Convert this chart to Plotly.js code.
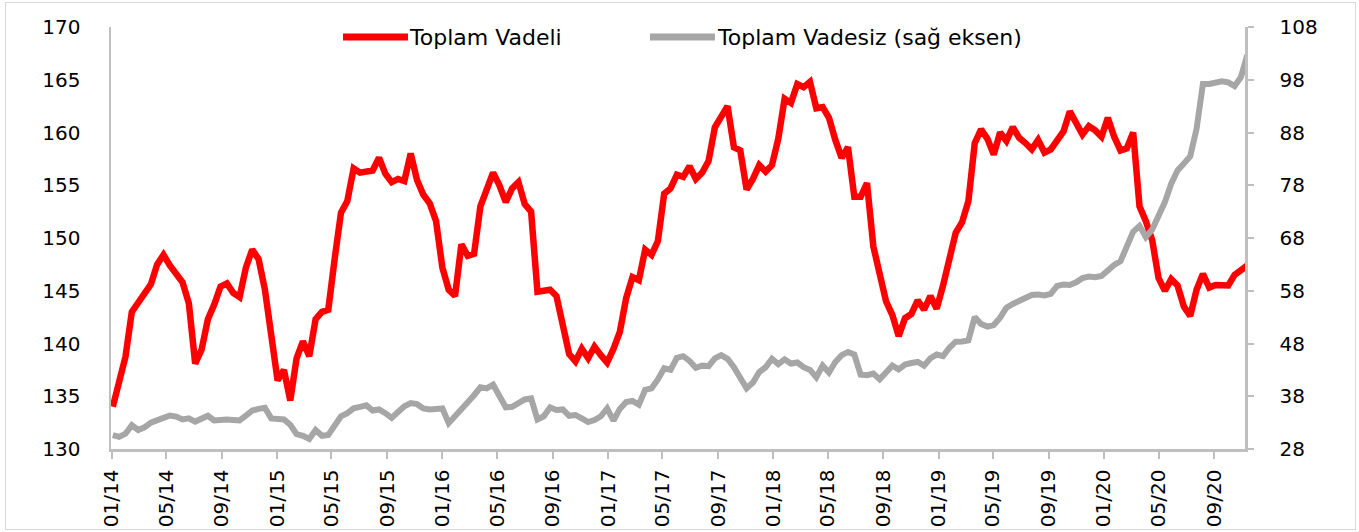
<!DOCTYPE html>
<html><head><meta charset="utf-8">
<script src="https://cdn.plot.ly/plotly-3.0.1.min.js"></script>
<style>
html,body{margin:0;padding:0;background:#fff;}
#frame{position:absolute;left:5px;top:2px;width:1349px;height:526px;border:1.5px solid #d9d9d9;pointer-events:none;z-index:2;}
#chart{position:absolute;left:0;top:0;width:1359px;height:532px;}
</style></head><body>
<div id="frame"></div>
<div id="chart"></div>
<script>
// weekly-Friday based, sampled every two weeks
const startDate = '2014-01-03';
const stepDays = 14;

const seriesNames = ['Toplam Vadeli', 'Toplam Vadesiz (sağ eksen)'];

const toplamVadeli = [
  134.0, 136.1, 138.75, 143.0, 143.9, 144.7, 145.6, 147.5, 148.4, 147.4,
  146.7, 145.8, 143.8, 138.1, 139.4, 142.3, 143.7, 145.4, 145.7, 144.8,
  144.4, 147.2, 148.9, 148.0, 145.1, 141.0, 136.5, 137.5, 134.6, 138.6,
  140.2, 138.8, 142.3, 143.0, 143.2, 148.0, 152.4, 153.5, 156.6, 156.2,
  156.3, 156.4, 157.6, 156.1, 155.3, 155.6, 155.4, 158.0, 155.5, 154.1,
  153.3, 151.6, 147.2, 145.1, 144.5, 149.4, 148.3, 148.5, 153.0, 154.6,
  156.2, 155.0, 153.4, 154.7, 155.3, 153.2, 152.5, 144.9, 145.0, 145.1,
  144.5, 142.0, 139.0, 138.3, 139.5, 138.6, 139.7, 138.9, 138.2, 139.5,
  141.1, 144.3, 146.3, 146.0, 148.9, 148.4, 149.7, 154.2, 154.7, 156.0,
  155.8, 156.8, 155.6, 156.2, 157.3, 160.5, 161.6, 162.5, 158.6, 158.3,
  154.6, 155.6, 156.9, 156.3, 156.9, 159.4, 163.2, 162.8, 164.6, 164.3,
  164.8, 162.3, 162.4, 161.4, 159.3, 157.6, 158.6, 153.9, 153.9, 155.2,
  149.2, 146.8, 144.0, 142.7, 140.7, 142.4, 142.8, 144.1, 143.2, 144.5,
  143.3, 145.5, 148.0, 150.5, 151.5, 153.5, 159.0, 160.3, 159.4, 157.9,
  160.0, 159.2, 160.5, 159.5, 159.0, 158.4, 159.3, 158.1, 158.4, 159.3,
  160.1, 162.0, 161.0, 159.8, 160.6, 160.2, 159.6, 161.4, 159.6, 158.3,
  158.5, 160.0, 153.0, 151.6, 149.8, 146.2, 145.0, 146.1, 145.5, 143.5,
  142.6, 145.1, 146.6, 145.3, 145.55, 145.6, 145.5, 146.5, 147.0, 147.4
];

const toplamVadesiz = [
  30.65, 30.3, 30.9, 32.5, 31.6, 32.1, 33.0, 33.6, 33.9, 34.35,
  34.15, 33.6, 33.8, 33.2, 33.8, 34.3, 33.4, 33.6, 33.6, 33.5,
  33.4, 34.3, 35.3, 35.6, 35.8, 33.8, 33.6, 33.6, 32.6, 30.8,
  30.5, 29.9, 31.6, 30.5, 30.65, 32.4, 34.2, 34.8, 35.7, 36.0,
  36.3, 35.3, 35.5, 34.8, 33.9, 35.0, 36.1, 36.7, 36.5, 35.7,
  35.5, 35.6, 35.7, 32.9, 34.2, 35.3, 36.6, 38.2, 39.7, 39.5,
  40.2, 37.8, 35.9, 36.0, 36.6, 37.4, 37.6, 33.6, 34.2, 35.9,
  35.4, 35.5, 34.3, 34.45, 33.8, 33.1, 33.5, 34.2, 35.7, 33.4,
  35.6, 36.9, 37.1, 36.4, 39.2, 39.5, 41.2, 43.3, 43.0, 45.3,
  45.6, 44.7, 43.4, 43.8, 43.7, 45.2, 45.8, 45.1, 43.5, 41.4,
  39.5, 40.6, 42.6, 43.5, 45.1, 44.1, 45.0, 44.2, 44.4, 43.5,
  43.0, 41.6, 43.8, 42.5, 44.5, 45.8, 46.4, 45.9, 42.1, 42.0,
  42.3, 41.2, 42.6, 43.8, 43.1, 44.0, 44.3, 44.5, 43.8, 45.2,
  45.9, 45.6, 47.2, 48.35, 48.4, 48.6, 53.0, 51.7, 51.2, 51.5,
  52.9, 54.8, 55.5, 56.1, 56.8, 57.2, 57.3, 57.1, 57.4, 58.9,
  59.2, 59.1, 59.6, 60.4, 60.7, 60.55, 60.8, 62.0, 62.9, 63.6,
  66.3, 69.2, 70.3, 68.2, 69.6, 71.9, 74.8, 78.3, 80.8, 82.1,
  83.5, 88.7, 97.2, 97.2, 97.35, 97.7, 97.5, 96.8, 98.5, 102.7
];

const leftTicks = [130, 135, 140, 145, 150, 155, 160, 165, 170];
const rightTicks = [28, 38, 48, 58, 68, 78, 88, 98, 108];

function buildDates(n) {
  const t0 = Date.parse(startDate + 'T00:00:00Z');
  const out = [];
  for (let i = 0; i < n; i++) {
    out.push(new Date(t0 + i * stepDays * 86400000).toISOString().slice(0, 10));
  }
  return out;
}
const dates = buildDates(toplamVadeli.length);

const FONT = 'DejaVu Sans, Verdana, sans-serif';
const AXIS_GRAY = '#bfbfbf';

const traces = [
  {x: dates, y: toplamVadeli, name: seriesNames[0], type: 'scatter', mode: 'lines',
   line: {color: '#ff0000', width: 6.5}, yaxis: 'y'},
  {x: dates, y: toplamVadesiz, name: seriesNames[1], type: 'scatter', mode: 'lines',
   line: {color: '#a6a6a6', width: 6}, yaxis: 'y2'}
];

const layout = {
  width: 1359, height: 532,
  margin: {l: 111, r: 114, t: 27, b: 83},
  paper_bgcolor: 'rgba(0,0,0,0)', plot_bgcolor: 'rgba(0,0,0,0)',
  showlegend: false,
  font: {family: FONT, size: 20, color: '#000'},
  xaxis: {
    type: 'date', range: ['2013-12-30', '2020-11-08'],
    tick0: '2014-01-01', dtick: 'M4', tickformat: '%m/%y', tickangle: -90,
    ticks: 'outside', ticklen: 7, tickwidth: 2, tickcolor: AXIS_GRAY,
    showline: true, linecolor: AXIS_GRAY, linewidth: 2.5,
    showgrid: false, zeroline: false, ticklabelstandoff: 3,
    tickfont: {family: FONT, size: 20, color: '#000'}
  },
  yaxis: {
    range: [130, 170], tickvals: leftTicks, ticktext: leftTicks.map(String),
    ticks: '', showline: true, linecolor: AXIS_GRAY, linewidth: 2.5,
    showgrid: false, zeroline: false, ticklabelstandoff: 24,
    tickfont: {family: FONT, size: 20, color: '#000'}
  },
  yaxis2: {
    range: [28, 108], tickvals: rightTicks, ticktext: rightTicks.map(String),
    overlaying: 'y', side: 'right',
    ticks: 'outside', ticklen: 6, tickwidth: 2, tickcolor: AXIS_GRAY,
    showline: true, linecolor: AXIS_GRAY, linewidth: 2.5,
    showgrid: false, zeroline: false, ticklabelstandoff: 22,
    tickfont: {family: FONT, size: 20, color: '#000'}
  },
  shapes: [
    {type: 'line', xref: 'paper', yref: 'paper', x0: 0.2046, x1: 0.2619, y0: 0.9763, y1: 0.9763,
     line: {color: '#ff0000', width: 7}},
    {type: 'line', xref: 'paper', yref: 'paper', x0: 0.4753, x1: 0.5326, y0: 0.9763, y1: 0.9763,
     line: {color: '#a6a6a6', width: 7}}
  ],
  annotations: [
    {xref: 'paper', yref: 'paper', x: 0.2610, y: 0.9763, xanchor: 'left', yanchor: 'middle',
     text: seriesNames[0], showarrow: false, font: {family: FONT, size: 22, color: '#000'}},
    {xref: 'paper', yref: 'paper', x: 0.5326, y: 0.9763, xanchor: 'left', yanchor: 'middle',
     text: seriesNames[1], showarrow: false, font: {family: FONT, size: 22, color: '#000'}}
  ]
};

Plotly.newPlot('chart', traces, layout, {staticPlot: true, displayModeBar: false});
</script>
</body></html>
